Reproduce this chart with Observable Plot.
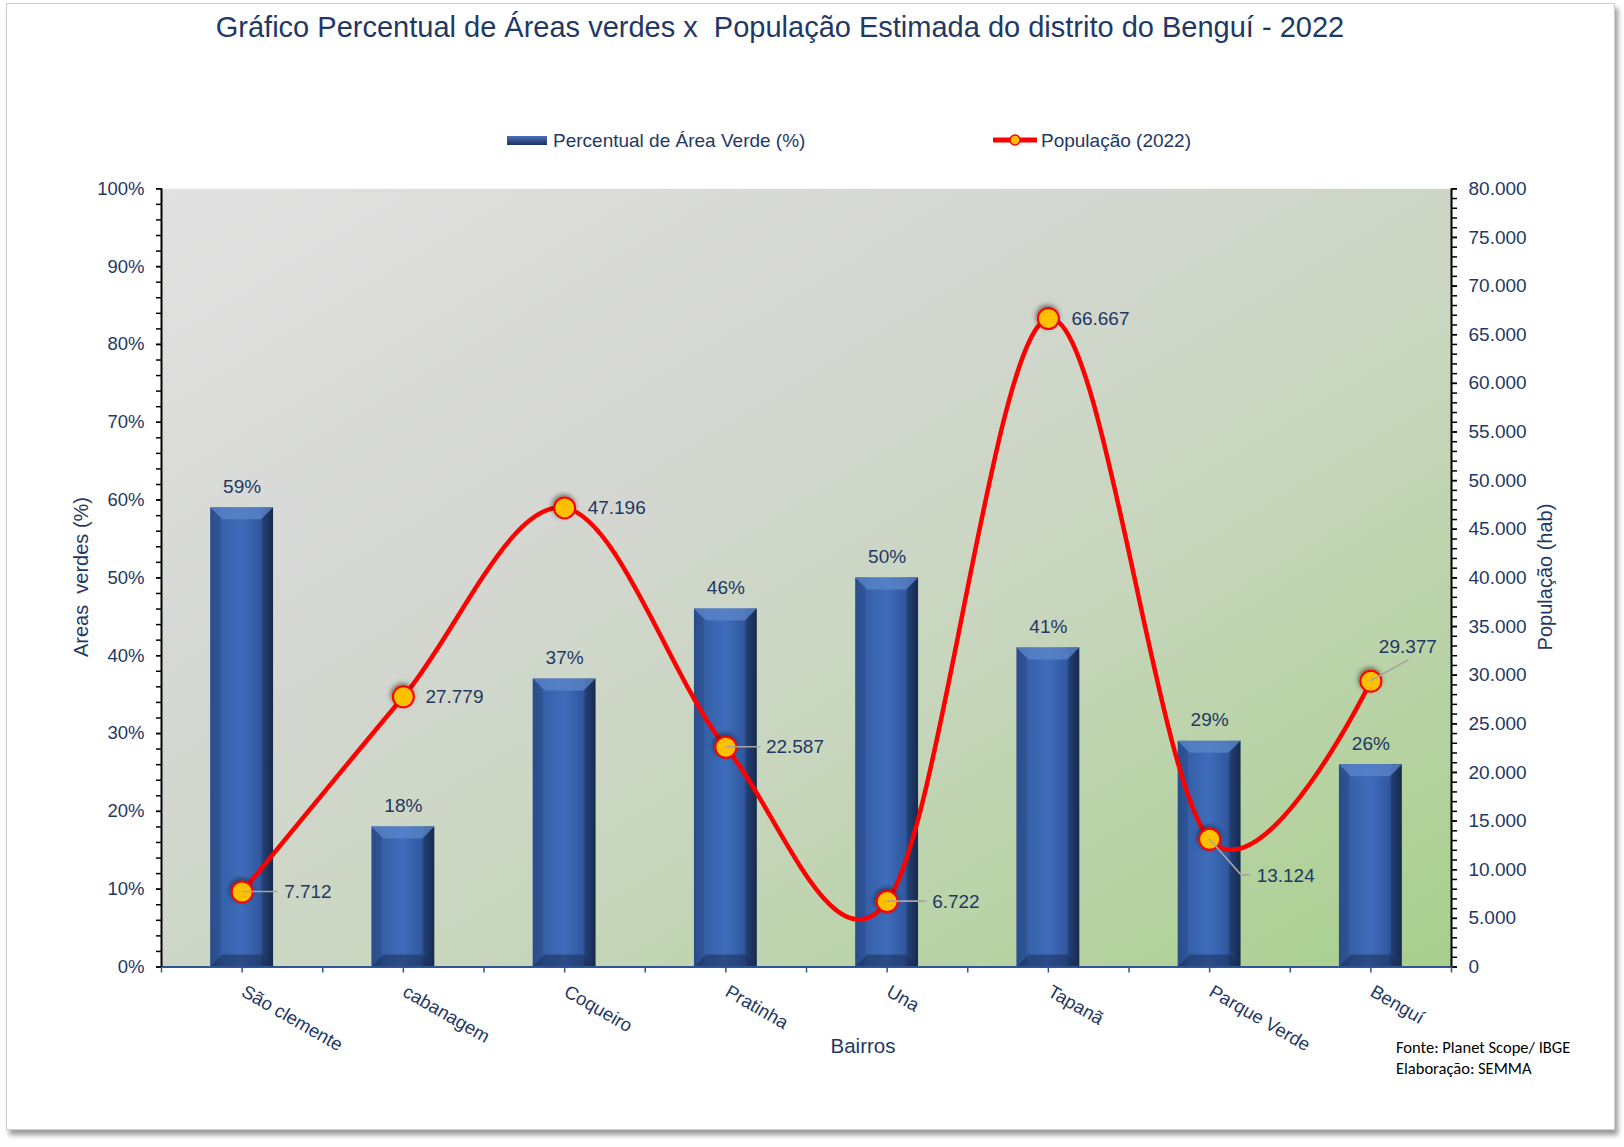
<!DOCTYPE html>
<html lang="pt-BR">
<head>
<meta charset="utf-8">
<script src="https://cdn.jsdelivr.net/npm/d3@7"></script>
<script src="https://cdn.jsdelivr.net/npm/@observablehq/plot@0.6"></script>
<style>
  html, body { margin: 0; padding: 0; background: #fff; }
  #page { position: relative; width: 1624px; height: 1147px; overflow: hidden;
          font-family: "Liberation Sans", Arial, sans-serif; color: #1F3864; }
  #box { position: absolute; left: 6px; top: 3px; width: 1607px; height: 1125px;
         border: 1px solid #cfcfcf; box-shadow: 3px 5px 5px rgba(0,0,0,0.4); background: #fff; }
  .t { position: absolute; white-space: pre; line-height: 1; }
  #title { left: 0; top: 13px; width: 1560px; text-align: center; font-size: 29px; }
  #chart { position: absolute; left: 0; top: 160px; }
  #leg1txt { left: 553px; top: 130.5px; font-size: 19px; }
  #leg2txt { left: 1041px; top: 130.5px; font-size: 19px; }
  #leg1sw { position: absolute; left: 507px; top: 136px; }
  #leg2sw { position: absolute; left: 993px; top: 130px; }
  #ylab { left: -69px; top: 567px; width: 300px; text-align: center; font-size: 20px; transform: rotate(-90deg); }
  #y2lab { left: 1395px; top: 567px; width: 300px; text-align: center; font-size: 20px; transform: rotate(-90deg); }
  #xlab { left: 763px; top: 1035.5px; width: 200px; text-align: center; font-size: 20.5px; }
  #fonte { left: 1396px; top: 1037px; font-size: 16.5px; line-height: 20.5px; color: #000;
           font-family: Carlito, Calibri, "Liberation Sans", sans-serif; }
</style>
</head>
<body>
<svg width="0" height="0" style="position:absolute">
  <defs>
    <linearGradient id="bgGrad" x1="0" y1="0" x2="1" y2="1">
      <stop offset="0" stop-color="#E1E1E1"/>
      <stop offset="0.35" stop-color="#D5D7D3"/>
      <stop offset="0.6" stop-color="#C8D6BE"/>
      <stop offset="1" stop-color="#A8CF8C"/>
    </linearGradient>
    <linearGradient id="barGrad" x1="0" y1="0" x2="1" y2="0">
      <stop offset="0" stop-color="#2A4C8B"/>
      <stop offset="0.16" stop-color="#2F5597"/>
      <stop offset="0.17" stop-color="#3560A8"/>
      <stop offset="0.5" stop-color="#3F6CBB"/>
      <stop offset="0.8" stop-color="#30589F"/>
      <stop offset="0.84" stop-color="#233F73"/>
      <stop offset="1" stop-color="#162A4D"/>
    </linearGradient>
    <linearGradient id="legGrad" x1="0" y1="0" x2="0" y2="1">
      <stop offset="0" stop-color="#4A72B8"/>
      <stop offset="1" stop-color="#1B3160"/>
    </linearGradient>
    <filter id="dotShadow" x="-50%" y="-50%" width="200%" height="200%">
      <feDropShadow dx="-1" dy="-2" stdDeviation="2.5" flood-color="#000" flood-opacity="0.5"/>
    </filter>
  </defs>
</svg>
<div id="page">
  <div id="box"></div>
  <div id="title" class="t">Gráfico Percentual de Áreas verdes x  População Estimada do distrito do Benguí - 2022</div>
  <svg id="leg1sw" width="40" height="9"><rect x="0" y="0" width="40" height="9" fill="url(#legGrad)"/></svg>
  <div id="leg1txt" class="t">Percentual de Área Verde (%)</div>
  <svg id="leg2sw" width="44" height="20"><line x1="1" y1="10" x2="43" y2="10" stroke="#FF0000" stroke-width="5" stroke-linecap="round"/><circle cx="22" cy="10" r="5" fill="#FFC000" stroke="#FF0000" stroke-width="1.5"/></svg>
  <div id="leg2txt" class="t">População (2022)</div>
  <div id="chart"></div>
  <div id="ylab" class="t">Areas  verdes (%)</div>
  <div id="y2lab" class="t">População (hab)</div>
  <div id="xlab" class="t">Bairros</div>
  <div id="fonte" class="t">Fonte: Planet Scope/ IBGE
Elaboração: SEMMA</div>
</div>
<script>
// ---------------- data ----------------
const bairros = ["São clemente", "cabanagem", "Coqueiro", "Pratinha", "Una", "Tapanã", "Parque Verde", "Benguí"];
const areaVerde = [59, 18, 37, 46, 50, 41, 29, 26];            // %
const populacao = [7712, 27779, 47196, 22587, 6722, 66667, 13124, 29377]; // hab
const popMax = 80000;
const pctMajorTicks = d3.range(0, 101, 10);
const pctMinorTicks = d3.range(0, 101, 2);
const popMajorTicks = d3.range(0, 80001, 5000);
const popMinorTicks = d3.range(0, 80001, 1000);

// ---------------- label layout (styling) ----------------
const popLabelLayout = [
  {dx: 42, dy: 0,   anchor: "start",  leader: [[0, 0], [36, 0]]},
  {dx: 22, dy: 0,   anchor: "start",  leader: null},
  {dx: 23, dy: 0,   anchor: "start",  leader: null},
  {dx: 40, dy: 0,   anchor: "start",  leader: [[0, 0], [35, 0]]},
  {dx: 45, dy: 0,   anchor: "start",  leader: [[0, 0], [40, 0]]},
  {dx: 23, dy: 0,   anchor: "start",  leader: null},
  {dx: 47, dy: 37,  anchor: "start",  leader: [[0, 0], [32, 36], [41, 36]]},
  {dx: 37, dy: -34, anchor: "middle", leader: [[0, 0], [38, -21]]}
];

const fmtBR = d3.formatLocale({decimal: ",", thousands: ".", grouping: [3], currency: ["R$", ""]}).format(",d");
const data = bairros.map((b, i) => ({i, bairro: b, pct: areaVerde[i], pop: populacao[i]}));
const toY = v => v * 100 / popMax;
const cx = d => d.i + 0.5;
const barHalf = 0.195;

const W = 1624, H = 920;
const plot = Plot.plot({
  width: W, height: H,
  marginTop: 28.3, marginBottom: 113.5, marginLeft: 161, marginRight: 173,
  style: {fontFamily: "'Liberation Sans', Arial, sans-serif", fontSize: "18.5px", color: "#1F3864",
          background: "transparent", overflow: "visible"},
  x: {domain: [0, bairros.length]},
  y: {domain: [0, 100]},
  marks: [
    Plot.frame({fill: "url(#bgGrad)", stroke: "none"}),
    Plot.rect(data, {x1: d => cx(d) - barHalf, x2: d => cx(d) + barHalf, y1: 0, y2: "pct", fill: "url(#barGrad)"}),
    Plot.ruleY([0], {stroke: "#2F5597", strokeWidth: 2}),
    Plot.ruleX([0], {stroke: "#000", strokeWidth: 2}),
    Plot.ruleX([bairros.length], {stroke: "#000", strokeWidth: 2}),
    Plot.axisY({anchor: "left", ticks: pctMinorTicks, tickSize: 5, tickFormat: () => "", stroke: "#000", strokeWidth: 1.5, label: null}),
    Plot.axisY({anchor: "left", ticks: pctMajorTicks, tickSize: 5, tickPadding: 12, tickFormat: d => d + "%",
                stroke: "#000", strokeWidth: 1.5, fill: "#1F3864", fontSize: 18.5, label: null}),
    Plot.axisY({anchor: "right", ticks: popMinorTicks.map(toY), tickSize: 5, tickFormat: () => "", stroke: "#000", strokeWidth: 1.5, label: null}),
    Plot.axisY({anchor: "right", ticks: popMajorTicks.map(toY), tickSize: 5, tickPadding: 12,
                tickFormat: d => fmtBR(Math.round(d * popMax / 100)),
                stroke: "#000", strokeWidth: 1.5, fill: "#1F3864", fontSize: 19, label: null}),
    Plot.axisX({anchor: "bottom", ticks: d3.range(0, bairros.length + 0.001, 0.5), tickSize: 6, tickFormat: () => "",
                stroke: "#2F5597", strokeWidth: 1.5, label: null}),
    Plot.text(data, {x: cx, y: 0, text: "bairro", rotate: 30, textAnchor: "start", dx: 1, dy: 23, fontSize: 18.5, fill: "#1F3864"}),
    Plot.text(data, {x: cx, y: "pct", text: d => d.pct + "%", dy: -21, fontSize: 19, fill: "#1F3864"}),
    Plot.line(data, {x: cx, y: d => toY(d.pop), curve: "cardinal", stroke: "#FF0000", strokeWidth: 4.5}),
    Plot.dot(data, {x: cx, y: d => toY(d.pop), r: 10.5, fill: "#FFC000", stroke: "#FF0000", strokeWidth: 2}),
    ...data.map((d, i) => Plot.text([d], {
      x: cx, y: e => toY(e.pop), text: e => fmtBR(e.pop),
      dx: popLabelLayout[i].dx, dy: popLabelLayout[i].dy, textAnchor: popLabelLayout[i].anchor,
      fontSize: 19, fill: "#1F3864"
    }))
  ]
});
document.getElementById("chart").appendChild(plot);

// ---------------- decorations using Plot's scales ----------------
const svgNS = "http://www.w3.org/2000/svg";
const sx = plot.scale("x"), sy = plot.scale("y");

// shadow on the population markers
const dotGroup = plot.querySelector('g[aria-label="dot"]');
if (dotGroup) dotGroup.querySelectorAll("circle").forEach(c => c.setAttribute("filter", "url(#dotShadow)"));

// bevel on bars
const barGroup = plot.querySelector('g[aria-label="rect"]');
if (barGroup) {
  const bevel = document.createElementNS(svgNS, "g");
  const b = 12;
  barGroup.querySelectorAll("rect").forEach(r => {
    const x = +r.getAttribute("x"), y = +r.getAttribute("y"), w = +r.getAttribute("width"), h = +r.getAttribute("height");
    const top = document.createElementNS(svgNS, "polygon");
    top.setAttribute("points", `${x},${y} ${x + w},${y} ${x + w - b},${y + b} ${x + b},${y + b}`);
    top.setAttribute("fill", "#5A84C9"); top.setAttribute("fill-opacity", "0.8");
    bevel.appendChild(top);
    const bot = document.createElementNS(svgNS, "polygon");
    bot.setAttribute("points", `${x},${y + h} ${x + w},${y + h} ${x + w - b},${y + h - b} ${x + b},${y + h - b}`);
    bot.setAttribute("fill", "#1A2F5A"); bot.setAttribute("fill-opacity", "0.55");
    bevel.appendChild(bot);
  });
  barGroup.parentNode.insertBefore(bevel, barGroup.nextSibling);
}

// leader lines for population labels
const leaders = document.createElementNS(svgNS, "g");
data.forEach((d, i) => {
  const L = popLabelLayout[i].leader;
  if (!L) return;
  const px = sx.apply(cx(d)), py = sy.apply(toY(d.pop));
  const p = document.createElementNS(svgNS, "path");
  p.setAttribute("d", "M" + L.map(([dx, dy]) => `${px + dx},${py + dy}`).join("L"));
  p.setAttribute("fill", "none"); p.setAttribute("stroke", "#A6A6A6"); p.setAttribute("stroke-width", "1.6");
  leaders.appendChild(p);
});
plot.appendChild(leaders);
</script>
</body>
</html>
